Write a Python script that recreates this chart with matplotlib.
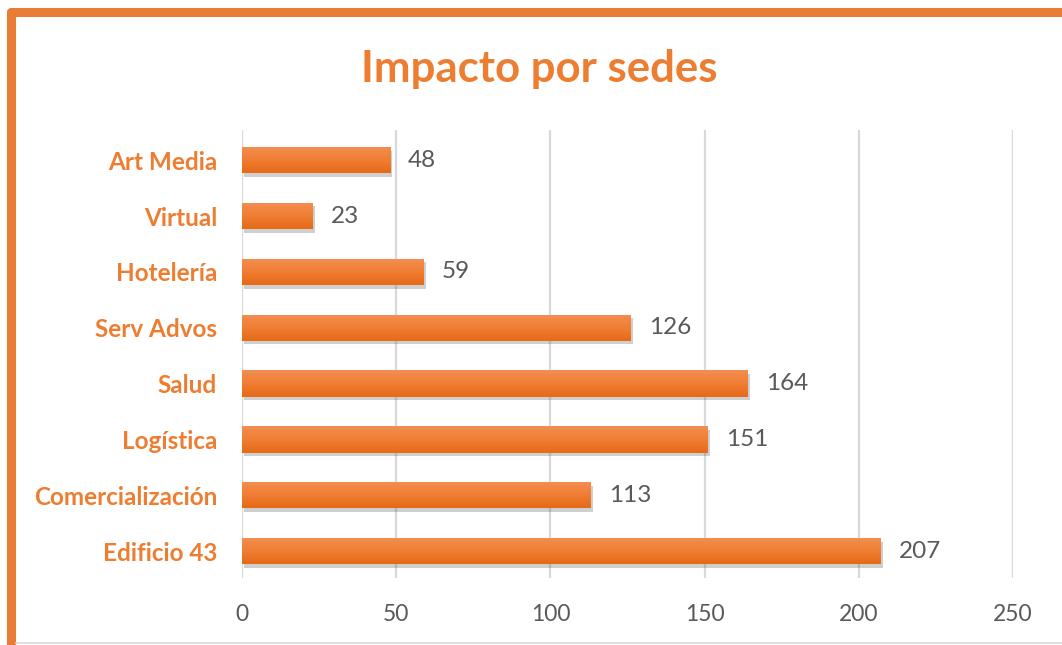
import numpy as np
import matplotlib
matplotlib.use("Agg")
import matplotlib.pyplot as plt
import matplotlib.patheffects as pe
from matplotlib.lines import Line2D
from matplotlib.colors import LinearSegmentedColormap

plt.rcParams['font.family'] = ['Lato', 'DejaVu Sans']

# datos (de abajo hacia arriba)
sedes = ['Edificio 43', 'Comercialización', 'Logística', 'Salud',
         'Serv Advos', 'Hotelería', 'Virtual', 'Art Media']
impacto = [207, 113, 151, 164, 126, 59, 23, 48]
x_ticks = [0, 50, 100, 150, 200, 250]

naranja = '#ED7D31'
gris_txt = '#595959'

fig = plt.figure(figsize=(10.62, 6.45), dpi=100)
ax = fig.add_axes([0.2279, 0.1039, 0.9539 - 0.2279, 0.7984 - 0.1039])

y = np.arange(len(sedes))
bars = ax.barh(y, impacto, height=0.47, color=naranja, zorder=3,
               path_effects=[pe.SimplePatchShadow(offset=(1.5, -2.5), shadow_rgbFace='#606060', alpha=0.3),
                             pe.Normal()])

# degradado en cada barra
cmap = LinearSegmentedColormap.from_list('gr', ['#E56A17', '#F07E33', '#F38E52'])
grad = np.linspace(0, 1, 64).reshape(-1, 1)
for b in bars:
    x0, y0 = b.get_x(), b.get_y()
    w, h = b.get_width(), b.get_height()
    im = ax.imshow(grad, cmap=cmap, aspect='auto', origin='lower',
                   extent=[x0, x0 + w, y0, y0 + h], zorder=4)
    im.set_clip_path(b)

for yi, v in zip(y, impacto):
    ax.annotate(str(v), (v, yi), xytext=(13, 0), textcoords='offset points',
                va='center', ha='left', fontsize=17.5, color=gris_txt)

ax.set_xlim(0, 250)
ax.set_ylim(-0.48, 7.54)
ax.set_xticks(x_ticks)
ax.set_yticks(y)
ax.set_yticklabels(sedes, fontsize=17.5, fontweight='bold', color=naranja)
ax.tick_params(axis='y', length=0, pad=18)
ax.tick_params(axis='x', length=0, pad=19, labelsize=16.5, labelcolor=gris_txt)
ax.xaxis.grid(True, color='#D9D9D9', linewidth=1.6, zorder=0)
ax.set_axisbelow(True)
for s in ax.spines.values():
    s.set_visible(False)

fig.text(0.508, 0.893, 'Impacto por sedes', ha='center', va='center',
         fontsize=31.5, fontweight='bold', color=naranja)

# marco naranja
W, H = 1062, 645
fig.add_artist(Line2D([11 / W, 1], [1 - 12 / H, 1 - 12 / H], color='#E97D37',
                      linewidth=6.5, solid_capstyle='round', transform=fig.transFigure))
fig.add_artist(Line2D([11 / W, 11 / W], [0, 1 - 12 / H], color='#E97D37',
                      linewidth=6.5, solid_capstyle='round', transform=fig.transFigure))
fig.add_artist(Line2D([16 / W, 1], [2 / H, 2 / H], color='#D9D9D9',
                      linewidth=1.2, transform=fig.transFigure))

fig.savefig('out.png', dpi=100)
